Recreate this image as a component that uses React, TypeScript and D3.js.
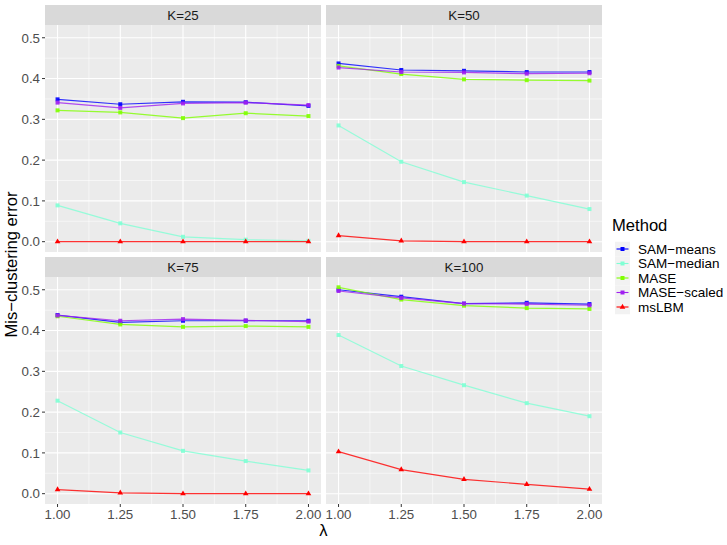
import React from "react";
import * as d3 from "d3";

const lambdas = [1.0, 1.25, 1.5, 1.75, 2.0];
const panels = ["K=25", "K=50", "K=75", "K=100"];
const methods = ["SAM−means", "SAM−median", "MASE", "MASE−scaled", "msLBM"];
const colors = ["#0000FF", "#7FFFD4", "#7FFF00", "#A020F0", "#FF0000"];
const yTicks = [0, 0.1, 0.2, 0.3, 0.4, 0.5];
const xTicks = [1.0, 1.25, 1.5, 1.75, 2.0];

// values[panel][method][lambda]
const k25 = [
  [0.349, 0.337, 0.343, 0.342, 0.333],
  [0.089, 0.045, 0.012, 0.005, 0.002],
  [0.322, 0.317, 0.303, 0.315, 0.308],
  [0.341, 0.328, 0.339, 0.341, 0.335],
  [0.0, 0.0, 0.0, 0.0, 0.0],
];
const k50 = [
  [0.437, 0.421, 0.419, 0.416, 0.416],
  [0.285, 0.196, 0.146, 0.113, 0.080],
  [0.431, 0.411, 0.398, 0.396, 0.395],
  [0.427, 0.416, 0.415, 0.412, 0.413],
  [0.015, 0.002, 0.0, 0.0, 0.0],
];
const k75 = [
  [0.438, 0.420, 0.424, 0.424, 0.424],
  [0.228, 0.150, 0.105, 0.080, 0.057],
  [0.435, 0.415, 0.409, 0.411, 0.409],
  [0.437, 0.424, 0.428, 0.425, 0.422],
  [0.010, 0.002, 0.0, 0.0, 0.0],
];
const k100 = [
  [0.500, 0.483, 0.466, 0.468, 0.465],
  [0.389, 0.313, 0.266, 0.222, 0.190],
  [0.506, 0.476, 0.461, 0.455, 0.453],
  [0.497, 0.480, 0.466, 0.465, 0.462],
  [0.103, 0.059, 0.035, 0.023, 0.011],
];
const panelData = [k25, k50, k75, k100];

const FONT = "'Liberation Sans', Arial, Helvetica, sans-serif";

export default function App() {
  const W = 727, H = 545;
  const colX = [45, 326];
  const panelW = 276;
  const rowY = [25, 277];
  const stripH = 20;
  const panelH = 227;

  const x = d3.scaleLinear().domain([0.95, 2.05]);
  const y = d3.scaleLinear().domain([-0.0253, 0.5313]);
  const line = d3.line<[number, number]>();

  const minorX = [1.125, 1.375, 1.625, 1.875];
  const minorY = [0.05, 0.15, 0.25, 0.35, 0.45];

  return (
    <div style={{ position: "absolute", left: 0, top: 0 }}>
      <svg width={W} height={H} style={{ display: "block", background: "#fff" }} fontFamily={FONT}>
        {panels.map((name, pi) => {
          const col = pi % 2, row = Math.floor(pi / 2);
          const px = colX[col], py = rowY[row];
          const xs = x.copy().range([px, px + panelW]);
          const ys = y.copy().range([py + panelH, py]);
          const data = panelData[pi];
          return (
            <g key={name}>
              <rect x={px} y={py - stripH} width={panelW} height={stripH} fill="#D9D9D9" />
              <text x={px + panelW / 2} y={py - stripH / 2} dy="0.36em" textAnchor="middle" fontSize={13.3} fill="#1A1A1A">{name}</text>
              <rect x={px} y={py} width={panelW} height={panelH} fill="#EBEBEB" />
              {minorX.map((v) => (
                <line key={"mx" + v} x1={xs(v)} x2={xs(v)} y1={py} y2={py + panelH} stroke="#fff" strokeWidth={0.55} />
              ))}
              {minorY.map((v) => (
                <line key={"my" + v} x1={px} x2={px + panelW} y1={ys(v)} y2={ys(v)} stroke="#fff" strokeWidth={0.55} />
              ))}
              {xTicks.map((v) => (
                <line key={"gx" + v} x1={xs(v)} x2={xs(v)} y1={py} y2={py + panelH} stroke="#fff" strokeWidth={1.1} />
              ))}
              {yTicks.map((v) => (
                <line key={"gy" + v} x1={px} x2={px + panelW} y1={ys(v)} y2={ys(v)} stroke="#fff" strokeWidth={1.1} />
              ))}
              {col === 0 &&
                yTicks.map((v) => (
                  <g key={"ty" + v}>
                    <line x1={px - 3} x2={px} y1={ys(v)} y2={ys(v)} stroke="#333" strokeWidth={1} />
                    <text x={px - 5} y={ys(v)} dy="0.36em" textAnchor="end" fontSize={13.3} fill="#4D4D4D">{v.toFixed(1)}</text>
                  </g>
                ))}
              {row === 1 &&
                xTicks.map((v) => (
                  <g key={"tx" + v}>
                    <line x1={xs(v)} x2={xs(v)} y1={py + panelH} y2={py + panelH + 3} stroke="#333" strokeWidth={1} />
                    <text x={xs(v)} y={py + panelH + 14.5} textAnchor="middle" fontSize={13.3} fill="#4D4D4D">{v.toFixed(2)}</text>
                  </g>
                ))}
              {methods.map((m, mi) => {
                const pts: [number, number][] = lambdas.map((l, li) => [xs(l), ys(data[mi][li])]);
                return (
                  <g key={m}>
                    <path d={line(pts) || ""} fill="none" stroke={colors[mi]} strokeWidth={1.2} strokeOpacity={0.8} />
                    {pts.map(([cx, cy], k) =>
                      m === "msLBM" ? (
                        <path key={k} d={d3.symbol(d3.symbolTriangle, 14)() || ""} transform={`translate(${cx},${cy})`} fill={colors[mi]} />
                      ) : (
                        <rect key={k} x={cx - 2} y={cy - 2} width={4} height={4} fill={colors[mi]} fillOpacity={0.9} />
                      )
                    )}
                  </g>
                );
              })}
            </g>
          );
        })}
        <text transform={`translate(17,${(rowY[0] + rowY[1] + panelH) / 2}) rotate(-90)`} textAnchor="middle" fontSize={16.6} fill="#000">Mis−clustering error</text>
        <text x={(colX[0] + colX[1] + panelW) / 2} y={536} textAnchor="middle" fontSize={16.6} fill="#000">λ</text>
        <g>
          <text x={612} y={231} fontSize={16.6} fill="#000">Method</text>
          {methods.map((m, mi) => {
            const cy = 249 + mi * 14.5;
            return (
              <g key={m}>
                <rect x={615} y={cy - 7.25} width={15} height={14.5} fill="#F2F2F2" />
                <line x1={616.5} x2={628.5} y1={cy} y2={cy} stroke={colors[mi]} strokeWidth={1.1} />
                {m === "msLBM" ? (
                  <path d={d3.symbol(d3.symbolTriangle, 14)() || ""} transform={`translate(622.5,${cy})`} fill={colors[mi]} />
                ) : (
                  <rect x={620.5} y={cy - 2} width={4} height={4} fill={colors[mi]} />
                )}
                <text x={638} y={cy} dy="0.36em" fontSize={13.5} fill="#000">{m}</text>
              </g>
            );
          })}
        </g>
      </svg>
    </div>
  );
}
